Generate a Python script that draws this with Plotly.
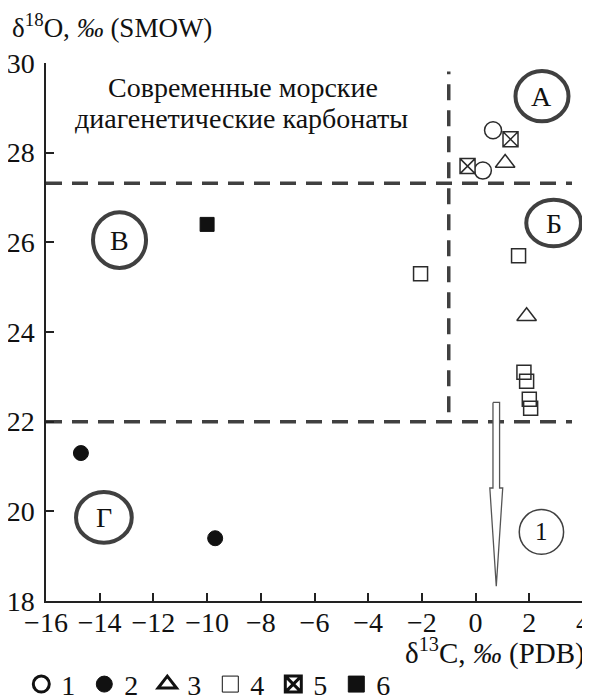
import plotly.graph_objects as go

# ---------------- data ----------------
s1_x = [0.65, 0.27]
s1_y = [28.5, 27.6]
s2_x = [-14.7, -9.7]
s2_y = [21.3, 19.4]
s3_x = [1.1, 1.9]
s3_y = [27.77, 24.35]
s4_x = [1.6, -2.05, 1.8, 1.9, 2.0, 2.05]
s4_y = [25.7, 25.3, 23.1, 22.9, 22.5, 22.3]
s5_x = [1.3, -0.3]
s5_y = [28.3, 27.7]
s6_x = [-10.0]
s6_y = [26.4]

legend_names = ["1", "2", "3", "4", "5", "6"]

# field boundaries
c13_boundary = -1.0
o18_upper = 27.32
o18_lower = 22.0

# arrow (trend 1)
arrow_x = 0.77
arrow_top = 22.43
arrow_head = 20.52
arrow_tip = 18.33

x_ticks = [-16, -14, -12, -10, -8, -6, -4, -2, 0, 2, 4]
y_ticks = [18, 20, 22, 24, 26, 28, 30]

FONT = "Liberation Serif"
DARK = "#2b2b2b"
GREY = "#404040"

fig = go.Figure()

def add_series(x, y, symbol, size, color, fill, lw, name):
    fig.add_trace(go.Scatter(
        x=x, y=y, mode="markers", showlegend=False,
        marker=dict(symbol=symbol, size=size, color=fill,
                    line=dict(color=color, width=lw)),
        hoverinfo="skip"))
    # legend-only entry (bold outline like the reference legend)
    fig.add_trace(go.Scatter(
        x=[None], y=[None], mode="markers", name=name, showlegend=True,
        marker=dict(symbol=symbol, size=16, color=fill,
                    line=dict(color="#111111", width=3 if fill == "white" else 1))))

add_series(s1_x, s1_y, "circle", 17, DARK, "white", 1.5, legend_names[0])
add_series(s2_x, s2_y, "circle", 15, "#111111", "#111111", 1, legend_names[1])
add_series(s3_x, s3_y, "triangle-up", 17, DARK, "white", 1.5, legend_names[2])
add_series(s4_x, s4_y, "square", 14, DARK, "rgba(0,0,0,0)", 1.5, legend_names[3])
add_series(s5_x, s5_y, "square-x", 15, DARK, "white", 1.5, legend_names[4])
add_series(s6_x, s6_y, "square", 14, "#111111", "#111111", 1, legend_names[5])

# arrow outline
hw_s, hw_h = 0.123, 0.24
ax_poly = [arrow_x - hw_s, arrow_x + hw_s, arrow_x + hw_s, arrow_x + hw_h,
           arrow_x, arrow_x - hw_h, arrow_x - hw_s, arrow_x - hw_s]
ay_poly = [arrow_top, arrow_top, arrow_head, arrow_head,
           arrow_tip, arrow_head, arrow_head, arrow_top]
fig.add_trace(go.Scatter(x=ax_poly, y=ay_poly, mode="lines", fill="toself",
                         fillcolor="white", line=dict(color="#555555", width=1.3),
                         showlegend=False, hoverinfo="skip"))

# dashed boundaries
dash = "16px,10px"
fig.add_shape(type="line", x0=-16, x1=3.59, y0=o18_upper, y1=o18_upper,
              line=dict(color=GREY, width=3.5, dash=dash), layer="below")
fig.add_shape(type="line", x0=-16, x1=3.59, y0=o18_lower, y1=o18_lower,
              line=dict(color=GREY, width=3.5, dash=dash), layer="below")
fig.add_shape(type="line", x0=c13_boundary, x1=c13_boundary, y0=22.21, y1=29.81,
              line=dict(color=GREY, width=3.5, dash=dash), layer="below")

# field labels in circles
fields = [
    ("А", 1.485, 3.46, 28.70, 29.82, 4),
    ("Б", 1.887, 3.925, 25.91, 26.95, 4),
    ("В", -14.249, -12.274, 25.43, 26.67, 4),
    ("Г", -14.882, -12.806, 19.30, 20.43, 4),
]
for lab, x0, x1, y0, y1, w in fields:
    fig.add_shape(type="circle", x0=x0, x1=x1, y0=y0, y1=y1,
                  line=dict(color=GREY, width=w))
    fig.add_annotation(x=(x0 + x1) / 2, y=(y0 + y1) / 2, text=lab, showarrow=False,
                       font=dict(family=FONT, size=28, color="#111111"))
fig.add_shape(type="circle", x0=1.626, x1=3.277, y0=19.04, y1=20.04,
              line=dict(color=GREY, width=1.5))
fig.add_annotation(x=(1.626 + 3.277) / 2, y=19.54, text="1", showarrow=False,
                   font=dict(family=FONT, size=25, color="#111111"))

# text
fig.add_annotation(x=-8.66, y=29.46, text="Современные морские", showarrow=False,
                   font=dict(family=FONT, size=28, color="#111111"))
fig.add_annotation(x=-8.72, y=28.76, text="диагенетические карбонаты", showarrow=False,
                   font=dict(family=FONT, size=28, color="#111111"))

# axis titles
fig.add_annotation(xref="paper", yref="paper", x=-0.067, y=1.068,
                   xanchor="left", yanchor="middle", showarrow=False,
                   text="δ<sup>18</sup>O, <i>‰</i> (SMOW)",
                   font=dict(family=FONT, size=27, color="#111111"))
fig.add_annotation(xref="paper", yref="paper", x=1.008, y=-0.093,
                   xanchor="right", yanchor="middle", showarrow=False,
                   text="δ<sup>13</sup>C, <i>‰</i> (PDB)",
                   font=dict(family=FONT, size=29, color="#111111"))

axis_common = dict(showgrid=False, zeroline=False, showline=True, automargin=False,
                   linecolor="#222222", linewidth=1.5, ticks="inside",
                   ticklen=8, tickwidth=1.5, tickcolor="#222222",
                   ticklabeloverflow="allow",
                   tickfont=dict(family=FONT, size=28, color="#111111"))

# page body adds an 8px offset, so the figure is 8px smaller with margins reduced
fig.update_layout(
    width=582, height=692,
    margin=dict(l=38, r=7, t=55, b=99, autoexpand=False),
    paper_bgcolor="white", plot_bgcolor="white",
    xaxis=dict(range=[-16, 4], tickvals=x_ticks, ticklabelstandoff=-4, **axis_common),
    yaxis=dict(range=[18, 30], tickvals=y_ticks, ticklabelstandoff=4, **axis_common),
    showlegend=True,
    legend=dict(orientation="h", x=-0.046, y=-0.155, xanchor="left", yanchor="middle",
                font=dict(family=FONT, size=28, color="#111111"),
                entrywidth=18, entrywidthmode="pixels", itemsizing="trace",
                bgcolor="rgba(0,0,0,0)", tracegroupgap=0),
)

fig.write_html("out.html")
